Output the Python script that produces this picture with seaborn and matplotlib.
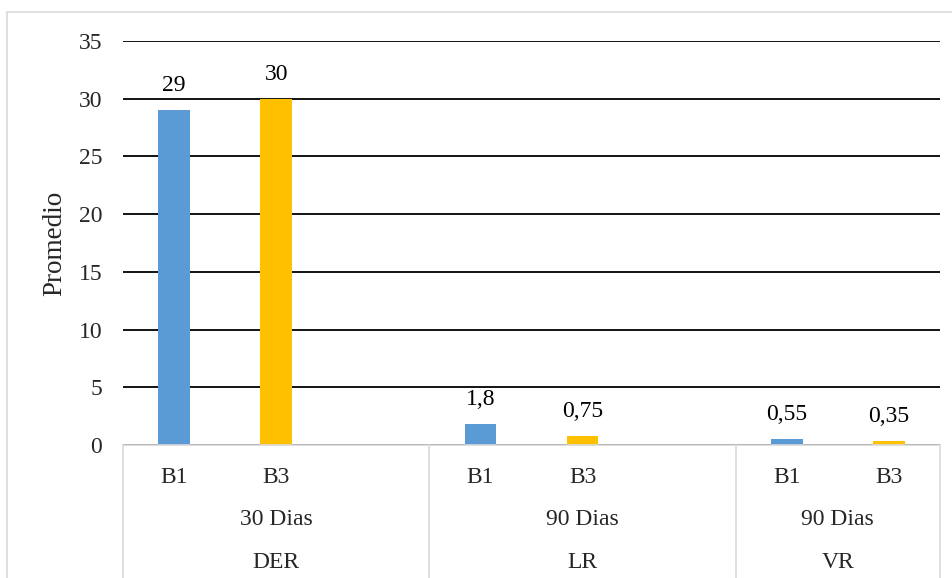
import matplotlib
matplotlib.use("Agg")
import matplotlib.pyplot as plt
import matplotlib.patches as mpatches
import pandas as pd
import seaborn as sns

# ===================== DATA =====================
groups = ["DER", "LR", "VR"]
periods = ["30 Dias", "90 Dias", "90 Dias"]
treatments = ["B1", "B3"]
der_values = [29, 30]
lr_values = [1.8, 0.75]
vr_values = [0.55, 0.35]
group_values = [der_values, lr_values, vr_values]
# number of category slots each group takes on the axis (Excel left a blank slot)
group_slots = [3, 3, 2]

# ===================== TABLE =====================
rows = []
order = []
for g, vals, n in zip(groups, group_values, group_slots):
    for i in range(n):
        if i < len(treatments):
            slot = f"{g}-{treatments[i]}"
            rows.append({"slot": slot, "tratamiento": treatments[i], "promedio": vals[i]})
        else:
            slot = f"{g}-blank{i}"
        order.append(slot)
df = pd.DataFrame(rows)

# ===================== STYLE =====================
sns.set_style("white")
plt.rcParams["font.family"] = ["Liberation Serif", "DejaVu Serif"]
FS = 17
palette = {"B1": "#5B9BD5", "B3": "#FFC000"}

fig = plt.figure(figsize=(9.52, 5.78), dpi=100)
ax = fig.add_axes([123 / 952, 1 - 445 / 578, (940 - 123) / 952, (445 - 41) / 578])

sns.barplot(data=df, x="slot", y="promedio", hue="tratamiento", order=order,
            palette=palette, saturation=1, dodge=False, width=0.31, legend=False,
            ax=ax, edgecolor="none")

# ===================== LABELS =====================
for cont in ax.containers:
    ax.bar_label(cont, labels=[f"{b.get_height():g}".replace(".", ",") for b in cont],
                 padding=10, fontsize=FS, color="#000000")

ax.set_ylim(0, 35)
ax.set_yticks(range(0, 36, 5))
ax.set_xlim(-0.5, len(order) - 0.5)
ax.tick_params(axis="y", labelsize=FS, length=0, pad=15)
ax.set_xticks([])
ax.set_xlabel("")
ax.set_ylabel("Promedio", fontsize=19.5, labelpad=8)
ax.yaxis.grid(True, color="black", linewidth=1.3)
ax.set_axisbelow(True)
for s in ["left", "right", "top"]:
    ax.spines[s].set_visible(False)
ax.spines["bottom"].set_color("#d9d9d9")
ax.spines["bottom"].set_linewidth(1.2)
ax.spines["bottom"].set_zorder(3)

# ===================== CATEGORY TABLE =====================
xt = ax.get_xaxis_transform()
start = 0
for g, p, n in zip(groups, periods, group_slots):
    for i in range(min(n, len(treatments))):
        ax.text(start + i, -0.08, treatments[i], transform=xt, ha="center", va="center", fontsize=FS)
    center = start + (n - 1) / 2
    ax.text(center, -0.184, p, transform=xt, ha="center", va="center", fontsize=FS)
    ax.text(center, -0.29, g, transform=xt, ha="center", va="center", fontsize=FS)
    ax.plot([start - 0.5, start - 0.5], [0, -0.4], transform=xt, color="#d9d9d9",
            linewidth=1.2, clip_on=False)
    start += n
ax.plot([start - 0.5, start - 0.5], [0, -0.4], transform=xt, color="#d9d9d9",
        linewidth=1.2, clip_on=False)

# chart area border
fig.patches.append(mpatches.Rectangle((7 / 952, -0.1), 1.0, 1 - 12 / 578 + 0.1,
                                      transform=fig.transFigure, fill=False,
                                      edgecolor="#d9d9d9", linewidth=1.2))

fig.savefig("out.png", dpi=100)
